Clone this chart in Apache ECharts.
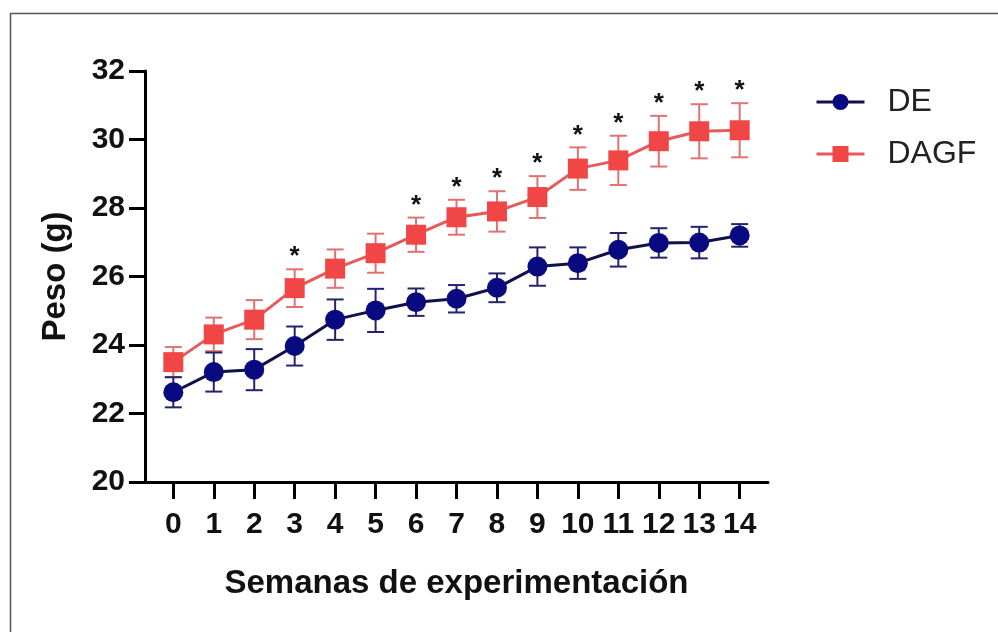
<!DOCTYPE html>
<html>
<head>
<meta charset="utf-8">
<script src="https://cdn.jsdelivr.net/npm/echarts@6.0.0/dist/echarts.min.js"></script>
<style>
  html, body { margin: 0; padding: 0; background: #fff; }
  #chart { width: 998px; height: 632px; }
</style>
</head>
<body>
<div id="chart"></div>
<script>
// semanas
var weeks = [0, 1, 2, 3, 4, 5, 6, 7, 8, 9, 10, 11, 12, 13, 14];
// peso medio (g) y error
var deMean = [22.62, 23.21, 23.28, 23.97, 24.74, 25.01, 25.25, 25.35, 25.67, 26.29, 26.39, 26.78, 26.98, 26.99, 27.20];
var deErr = [0.44, 0.57, 0.60, 0.57, 0.59, 0.63, 0.40, 0.40, 0.42, 0.56, 0.46, 0.49, 0.43, 0.46, 0.33];
var dagfMean = [23.50, 24.31, 24.74, 25.66, 26.23, 26.68, 27.22, 27.73, 27.90, 28.32, 29.15, 29.39, 29.95, 30.24, 30.27];
var dagfErr = [0.44, 0.49, 0.57, 0.55, 0.56, 0.57, 0.50, 0.51, 0.59, 0.61, 0.62, 0.72, 0.74, 0.79, 0.79];
// semanas con diferencia significativa (*)
var sigWeeks = [3, 6, 7, 8, 9, 10, 11, 12, 13, 14];
var yTicks = [20, 22, 24, 26, 28, 30, 32];

var FONT = '"Liberation Sans", Arial, sans-serif';
var DE_COLOR = '#0a0a80';
var DE_LINE = '#10104a';
var DE_BAR = '#23236e';
var DAGF_COLOR = '#f04646';
var DAGF_LINE = '#e65a5a';
var DAGF_BAR = '#e07272';

function pairs(mean) {
  return weeks.map(function (w, i) { return [w, mean[i]]; });
}
function errData(mean, err) {
  return weeks.map(function (w, i) { return [w, mean[i] - err[i], mean[i] + err[i]]; });
}
function errRender(color) {
  return function (params, api) {
    var x = api.value(0);
    var lo = api.coord([x, api.value(1)]);
    var hi = api.coord([x, api.value(2)]);
    var w = 8.5;
    var st = { stroke: color, lineWidth: 2 };
    return {
      type: 'group',
      children: [
        { type: 'line', shape: { x1: lo[0], y1: lo[1], x2: hi[0], y2: hi[1] }, style: st },
        { type: 'line', shape: { x1: hi[0] - w, y1: hi[1], x2: hi[0] + w, y2: hi[1] }, style: st },
        { type: 'line', shape: { x1: lo[0] - w, y1: lo[1], x2: lo[0] + w, y2: lo[1] }, style: st }
      ]
    };
  };
}

var chart = echarts.init(document.getElementById('chart'), null, { renderer: 'canvas' });

var starData = sigWeeks.map(function (w) { return [w, dagfMean[w] + dagfErr[w]]; });

chart.setOption({
  animation: false,
  backgroundColor: '#fff',
  textStyle: { fontFamily: FONT },
  graphic: [
    { type: 'polyline', shape: { points: [[10.5, 632], [10.5, 13.5], [998, 13.5]] }, style: { stroke: '#555', lineWidth: 1.5, fill: null } }
  ],
  grid: { left: 145, top: 71, width: 623, height: 411 },
  legend: {
    data: ['DE', 'DAGF'],
    orient: 'vertical',
    left: 810,
    top: 81,
    itemWidth: 48,
    itemHeight: 20,
    itemGap: 20,
    lineStyle: { width: 3 },
    textStyle: { fontSize: 32, color: '#222', fontFamily: FONT, padding: [0, 0, 0, 18] }
  },
  xAxis: {
    type: 'value',
    min: -0.7,
    max: 14.7,
    name: 'Semanas de experimentación',
    nameLocation: 'middle',
    nameGap: 85,
    nameTextStyle: { fontSize: 33, fontWeight: 'bold', color: '#111', fontFamily: FONT },
    axisLine: { onZero: false, lineStyle: { color: '#000', width: 3 } },
    axisTick: { show: true, customValues: weeks, length: 17, lineStyle: { color: '#000', width: 3 } },
    axisLabel: { customValues: weeks, margin: 28, fontSize: 30, fontWeight: 'bold', color: '#111', fontFamily: FONT },
    splitLine: { show: false }
  },
  yAxis: {
    type: 'value',
    min: 20,
    max: 32,
    interval: 2,
    name: 'Peso (g)',
    nameLocation: 'middle',
    nameGap: 73,
    nameTextStyle: { fontSize: 33, fontWeight: 'bold', color: '#111', fontFamily: FONT },
    axisLine: { show: true, onZero: false, lineStyle: { color: '#000', width: 3 } },
    axisTick: { show: true, length: 16, lineStyle: { color: '#000', width: 3 } },
    axisLabel: { margin: 20, fontSize: 30, fontWeight: 'bold', color: '#111', fontFamily: FONT,
      formatter: function (v) { return yTicks.indexOf(v) >= 0 ? String(v) : ''; } },
    splitLine: { show: false }
  },
  series: [
    {
      name: 'DAGF err', type: 'custom', renderItem: errRender(DAGF_BAR),
      data: errData(dagfMean, dagfErr), z: 2, silent: true
    },
    {
      name: 'DAGF', type: 'line', data: pairs(dagfMean),
      symbol: 'rect', symbolSize: 20,
      itemStyle: { color: DAGF_COLOR },
      lineStyle: { color: DAGF_LINE, width: 3 },
      z: 3
    },
    {
      name: 'DE err', type: 'custom', renderItem: errRender(DE_BAR),
      data: errData(deMean, deErr), z: 4, silent: true
    },
    {
      name: 'DE', type: 'line', data: pairs(deMean),
      symbol: 'circle', symbolSize: 20,
      itemStyle: { color: DE_COLOR },
      lineStyle: { color: DE_LINE, width: 3 },
      z: 5
    },
    {
      name: 'sig', type: 'custom', silent: true, z: 6,
      data: starData,
      renderItem: function (params, api) {
        var p = api.coord([api.value(0), api.value(1)]);
        return {
          type: 'text',
          x: p[0], y: p[1] + 1,
          style: { text: '*', fill: '#111', font: 'bold 26px ' + FONT, align: 'center', verticalAlign: 'bottom' }
        };
      }
    }
  ]
});
</script>
</body>
</html>
